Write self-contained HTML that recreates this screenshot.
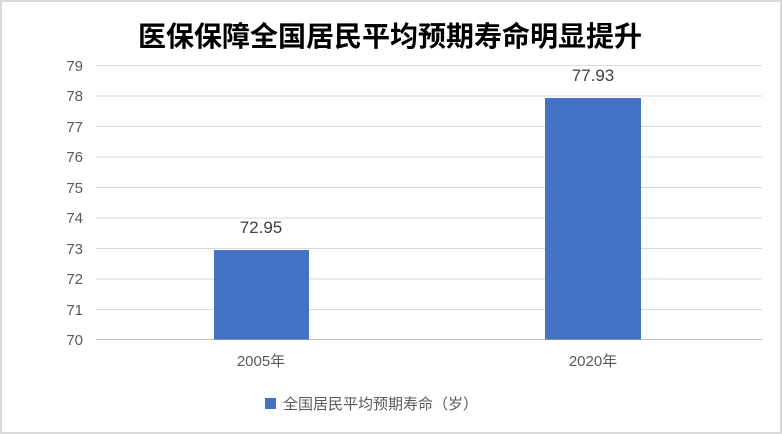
<!DOCTYPE html>
<html><head><meta charset="utf-8"><style>
html,body{margin:0;padding:0;background:#fff;}
svg{display:block;}
text{font-family:"Liberation Sans","Noto Sans CJK SC",sans-serif;}
</style></head><body>
<svg width="782" height="434" viewBox="0 0 782 434" xmlns="http://www.w3.org/2000/svg">
<rect x="1" y="1" width="780" height="432" fill="#fff" stroke="#d9d9d9" stroke-width="2"/>
<text x="390" y="46" text-anchor="middle" font-size="28" font-weight="bold" fill="#000" style="font-family:'Noto Sans CJK SC',sans-serif">医保保障全国居民平均预期寿命明显提升</text>
<g stroke="#d9d9d9" stroke-width="1">
<line x1="96" x2="762" y1="65.5" y2="65.5"/>
<line x1="96" x2="762" y1="96" y2="96"/>
<line x1="96" x2="762" y1="126.5" y2="126.5"/>
<line x1="96" x2="762" y1="157" y2="157"/>
<line x1="96" x2="762" y1="187.5" y2="187.5"/>
<line x1="96" x2="762" y1="218" y2="218"/>
<line x1="96" x2="762" y1="248.5" y2="248.5"/>
<line x1="96" x2="762" y1="279" y2="279"/>
<line x1="96" x2="762" y1="309.5" y2="309.5"/>
</g>
<line x1="96" x2="762" y1="339.5" y2="339.5" stroke="#bfbfbf"/>
<g font-size="15" fill="#595959" text-anchor="end">
<text x="83" y="71">79</text><text x="83" y="101">78</text><text x="83" y="132">77</text>
<text x="83" y="162">76</text><text x="83" y="193">75</text><text x="83" y="223">74</text>
<text x="83" y="254">73</text><text x="83" y="284">72</text><text x="83" y="315">71</text>
<text x="83" y="345">70</text>
</g>
<rect x="214" y="250" width="95" height="89.5" fill="#4472c4"/>
<rect x="545" y="98" width="96" height="241.5" fill="#4472c4"/>
<g font-size="17" fill="#404040" text-anchor="middle">
<text x="261" y="233">72.95</text>
<text x="593" y="81">77.93</text>
</g>
<g font-size="15" fill="#595959" text-anchor="middle">
<text x="261" y="366">2005年</text>
<text x="593" y="366">2020年</text>
</g>
<rect x="265" y="398" width="11" height="11" fill="#4472c4"/>
<text x="283" y="409" font-size="15" fill="#595959">全国居民平均预期寿命（岁）</text>
</svg>
</body></html>
